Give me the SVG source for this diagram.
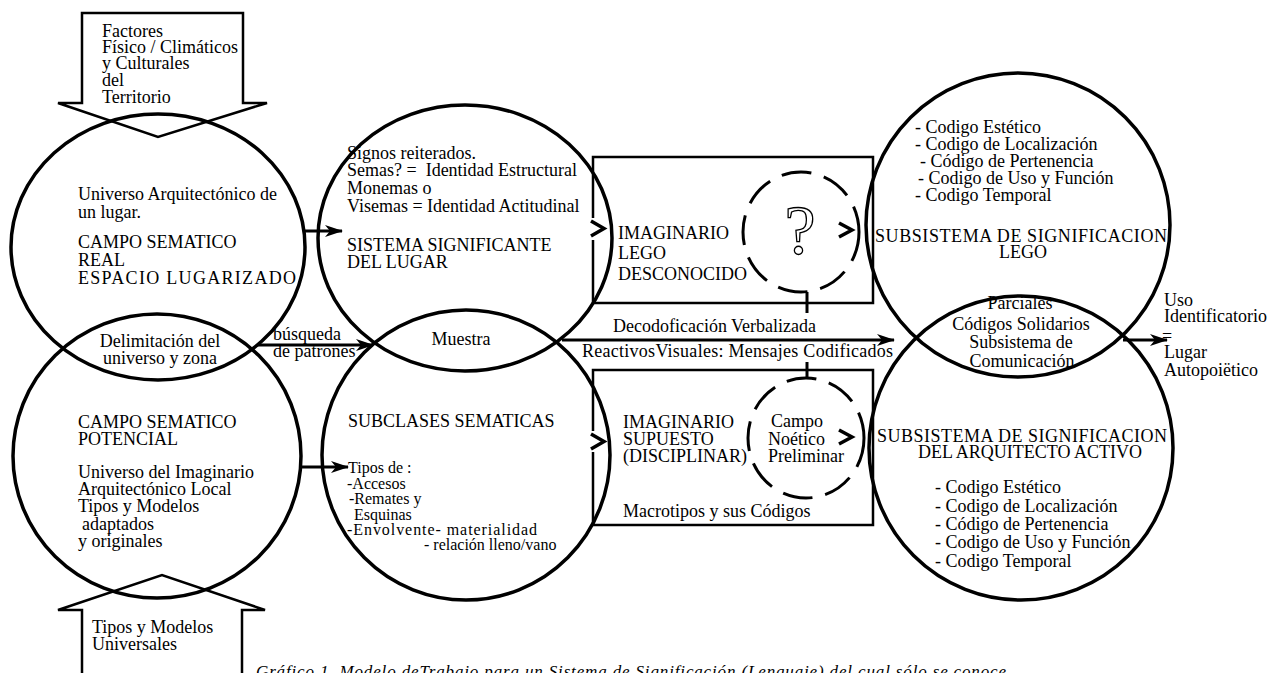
<svg xmlns="http://www.w3.org/2000/svg" width="1272" height="673" viewBox="0 0 1272 673">
<style>
.t{font-family:"Liberation Serif","Times New Roman",serif;font-size:18px;fill:#000}
.s{font-size:16px}
.c{text-anchor:middle}
.cap{font-style:italic;font-size:17px}
.circ{fill:none;stroke:#000;stroke-width:3.5}
.box{fill:none;stroke:#000;stroke-width:2.5}
.dash{fill:none;stroke:#000;stroke-width:3;stroke-dasharray:30 13}
.ln{fill:none;stroke:#000;stroke-width:3}
.chev{fill:none;stroke:#000;stroke-width:3.5;stroke-linejoin:miter}
</style>
<defs>
<marker id="ah" viewBox="0 0 18 12" refX="17" refY="6" markerWidth="18" markerHeight="12" markerUnits="userSpaceOnUse" orient="auto">
<path d="M0,0 L18,6 L0,12 L5,6 z" fill="#000"/>
</marker>
</defs>
<rect width="1272" height="673" fill="#fff"/>

<g id="n-factores">
<polygon class="box" points="82,13 243,13 243,103 267,103 158,137 58,103 82,103"/>
<text class="t"><tspan x="102" y="37">Factores</tspan><tspan x="102" y="53">Físico / Climáticos</tspan><tspan x="102" y="69">y Culturales</tspan><tspan x="102" y="86">del</tspan><tspan x="102" y="103">Territorio</tspan></text>
</g>

<g id="n-campo-real">
<ellipse class="circ" cx="158" cy="247" rx="147" ry="133"/>
<text class="t"><tspan x="78" y="200">Universo Arquitectónico de</tspan><tspan x="78" y="218">un lugar.</tspan><tspan x="78" y="248">CAMPO SEMATICO</tspan><tspan x="78" y="266">REAL</tspan><tspan x="78" y="284" textLength="218" lengthAdjust="spacing">ESPACIO LUGARIZADO</tspan></text>
</g>

<g id="n-campo-potencial">
<ellipse class="circ" cx="157" cy="456" rx="144" ry="142"/>
<text class="t"><tspan x="78" y="428">CAMPO SEMATICO</tspan><tspan x="78" y="445">POTENCIAL</tspan><tspan x="78" y="478">Universo del Imaginario</tspan><tspan x="78" y="495">Arquitectónico Local</tspan><tspan x="78" y="512">Tipos y Modelos</tspan><tspan x="82" y="530">adaptados</tspan><tspan x="78" y="547">y originales</tspan></text>
</g>

<g id="n-delimitacion">
<text class="t c"><tspan x="160" y="347">Delimitación del</tspan><tspan x="160" y="364">universo y zona</tspan></text>
</g>

<g id="n-universales">
<polyline class="box" points="82,680 82,610 58,610 162,575 265,610 242,610 242,680"/>
<text class="t"><tspan x="92" y="633">Tipos y Modelos</tspan><tspan x="92" y="650">Universales</tspan></text>
</g>

<g id="n-sistema">
<ellipse class="circ" cx="465" cy="238" rx="147" ry="133"/>
<text class="t"><tspan x="347" y="159">Signos reiterados.</tspan><tspan x="347" y="176">Semas? =&#160; Identidad Estructural</tspan><tspan x="347" y="194">Monemas o</tspan><tspan x="347" y="212">Visemas = Identidad Actitudinal</tspan><tspan x="347" y="251">SISTEMA SIGNIFICANTE</tspan><tspan x="347" y="268">DEL LUGAR</tspan></text>
</g>

<g id="n-subclases">
<ellipse class="circ" cx="466" cy="455" rx="144" ry="145"/>
<text class="t"><tspan x="348" y="427">SUBCLASES SEMATICAS</tspan></text>
<text class="t s"><tspan x="348" y="473">Tipos de :</tspan><tspan x="347" y="489">-Accesos</tspan><tspan x="349" y="504">-Remates y</tspan><tspan x="354" y="520">Esquinas</tspan><tspan x="347" y="535" textLength="190" lengthAdjust="spacing">-Envolvente- materialidad</tspan><tspan x="424" y="550">- relación lleno/vano</tspan></text>
</g>

<g id="n-muestra">
<text class="t c" x="461" y="345">Muestra</text>
</g>

<g id="n-imaginario-lego">
<path class="box" d="M593,218 V157 H873 V303 H593 V240"/>
<polyline class="chev" points="591,221 604,228.5 591,236"/>
<polyline class="chev" points="839,223 852,230 839,237"/>
<text class="t"><tspan x="618" y="239">IMAGINARIO</tspan><tspan x="618" y="259">LEGO</tspan><tspan x="618" y="280">DESCONOCIDO</tspan></text>
</g>

<g id="n-desconocido">
<ellipse class="dash" cx="801" cy="232" rx="58" ry="60"/>
<text x="800" y="254" text-anchor="middle" style="font-family:'Liberation Serif',serif;font-size:70px;fill:none;stroke:#000;stroke-width:1.3">?</text>
</g>

<g id="n-imaginario-supuesto">
<path class="box" d="M593,431 V370 H873 V525 H593 V452"/>
<polyline class="chev" points="591,434 604,441.5 591,449"/>
<polyline class="chev" points="839,430 852,437 839,444"/>
<text class="t"><tspan x="623" y="428">IMAGINARIO</tspan><tspan x="623" y="445">SUPUESTO</tspan><tspan x="623" y="462">(DISCIPLINAR)</tspan><tspan x="623" y="517">Macrotipos y sus Códigos</tspan></text>
</g>

<g id="n-noetico">
<ellipse class="dash" cx="806" cy="438" rx="58" ry="60"/>
<text class="t"><tspan x="771" y="427">Campo</tspan><tspan x="768" y="445">Noético</tspan><tspan x="768" y="462">Preliminar</tspan></text>
</g>

<g id="n-lego">
<circle class="circ" cx="1018" cy="225" r="152"/>
<text class="t"><tspan x="915" y="133">- Codigo Estético</tspan><tspan x="915" y="150">- Codigo de Localización</tspan><tspan x="920" y="167">- Código de Pertenencia</tspan><tspan x="918" y="184">- Codigo de Uso y Función</tspan><tspan x="915" y="201">- Codigo Temporal</tspan></text>
<text class="t"><tspan x="875" y="242" textLength="292" lengthAdjust="spacing">SUBSISTEMA DE SIGNIFICACION</tspan><tspan x="1023" y="258" text-anchor="middle">LEGO</tspan></text>
</g>

<g id="n-activo">
<circle class="circ" cx="1021" cy="448" r="152"/>
<text class="t"><tspan x="877" y="442" textLength="290" lengthAdjust="spacing">SUBSISTEMA DE SIGNIFICACION</tspan><tspan x="1030" y="458" text-anchor="middle">DEL ARQUITECTO ACTIVO</tspan></text>
<text class="t"><tspan x="935" y="493">- Codigo Estético</tspan><tspan x="935" y="512">- Codigo de Localización</tspan><tspan x="935" y="530">- Código de Pertenencia</tspan><tspan x="935" y="548">- Codigo de Uso y Función</tspan><tspan x="935" y="567">- Codigo Temporal</tspan></text>
</g>

<g id="n-comunicacion">
<text class="t c"><tspan x="1020" y="309">Parciales</tspan><tspan x="1021" y="330">Códigos Solidarios</tspan><tspan x="1021" y="348">Subsistema de</tspan><tspan x="1022" y="367">Comunicación</tspan></text>
</g>

<g id="n-uso">
<text class="t"><tspan x="1164" y="306">Uso</tspan><tspan x="1164" y="322">Identificatorio</tspan><tspan x="1162" y="342">=</tspan><tspan x="1164" y="358">Lugar</tspan><tspan x="1164" y="376">Autopoiëtico</tspan></text>
</g>

<g id="connectors">
<line class="ln" x1="305" y1="231" x2="342" y2="231" marker-end="url(#ah)"/>
<line class="ln" x1="257" y1="345" x2="373" y2="345" marker-end="url(#ah)"/>
<line class="ln" x1="300" y1="467" x2="348" y2="467" marker-end="url(#ah)"/>
<line class="ln" x1="562" y1="340" x2="894" y2="340" marker-end="url(#ah)"/>
<line class="ln" x1="1123" y1="340" x2="1167" y2="340" marker-end="url(#ah)"/>
<line class="ln" x1="807" y1="292" x2="807" y2="313"/>
<line class="ln" x1="807" y1="362" x2="807" y2="378"/>
<text class="t"><tspan x="273" y="340">búsqueda</tspan><tspan x="273" y="357">de patrones</tspan></text>
<text class="t"><tspan x="613" y="332">Decodoficación Verbalizada</tspan><tspan x="582" y="357" textLength="311" lengthAdjust="spacing">ReactivosVisuales: Mensajes Codificados</tspan></text>
</g>

<g id="caption">
<text class="t cap" x="256" y="677" textLength="750" lengthAdjust="spacing">Gráfico 1. Modelo deTrabajo para un Sistema de Significación (Lenguaje) del cual sólo se conoce</text>
</g>
</svg>
